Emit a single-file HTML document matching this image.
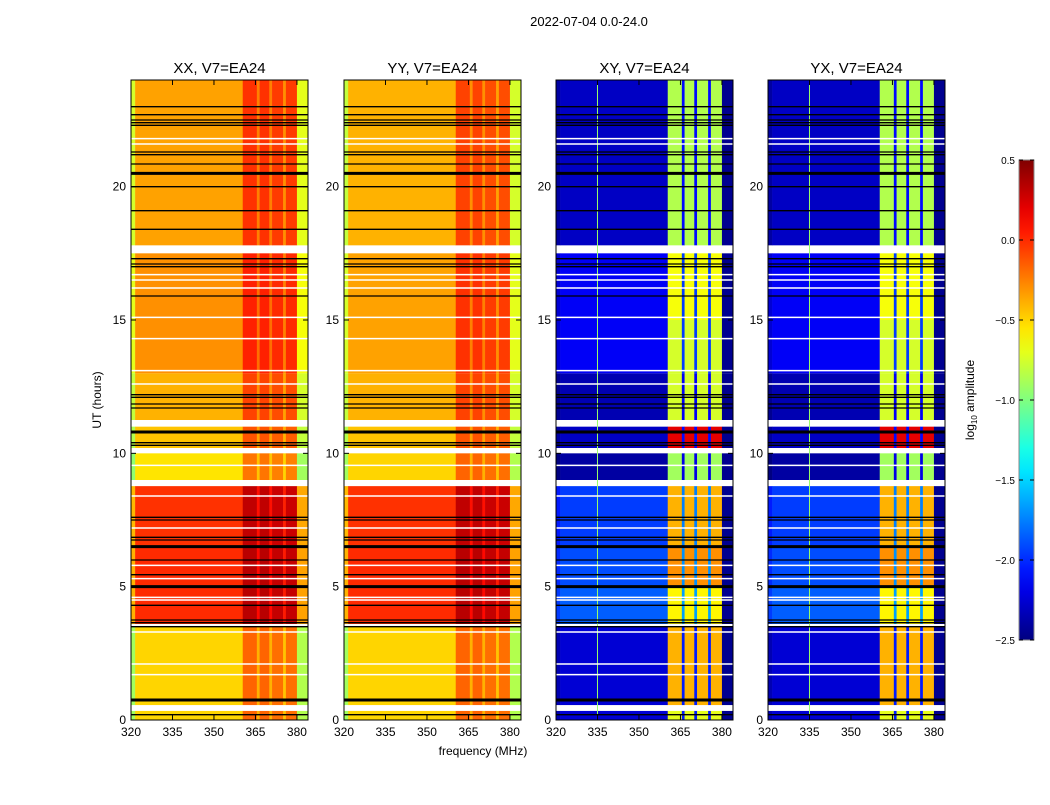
<!DOCTYPE html>
<html><head><meta charset="utf-8"><style>
body{margin:0;background:#fff;font-family:"Liberation Sans",sans-serif}
svg text{font-family:"Liberation Sans","DejaVu Sans",sans-serif}
</style></head><body>
<svg id="fig" width="1050" height="800" viewBox="0 0 1050 800" xmlns="http://www.w3.org/2000/svg">
<text x="589" y="26" font-size="13" text-anchor="middle">2022-07-04 0.0-24.0</text>
<text x="483" y="755" font-size="12" text-anchor="middle">frequency (MHz)</text>
<text x="0" y="0" font-size="12" text-anchor="middle" transform="translate(101,400) rotate(-90)">UT (hours)</text>
<text x="0" y="0" font-size="12" text-anchor="middle" transform="translate(974,400) rotate(-90)">log<tspan font-size="8" dy="3">10</tspan><tspan dy="-3"> amplitude</tspan></text>
</svg>
<script>
// ---- data ----
const panelTitles = ["XX, V7=EA24","YY, V7=EA24","XY, V7=EA24","YX, V7=EA24"];
const bandStart = [17.8, 15.0, 13.0, 11.25, 10.2, 9.0, 6.5, 5.0, 3.6, 0.56, 0.0];
const bandEnd   = [24.0, 17.5, 15.0, 13.0, 11.0, 10.0, 8.77, 6.5, 5.0, 3.5, 0.34];
const xxBase    = [-0.35,-0.3,-0.3,-0.4,-0.45,-0.55,-0.02,0.0,0.0,-0.5,-0.5];
const yyBase    = [-0.4,-0.35,-0.35,-0.4,-0.45,-0.5,-0.02,0.0,0.0,-0.5,-0.5];
const xyBase    = [-2.3,-2.15,-2.15,-2.35,-2.3,-2.4,-1.95,-1.9,-1.85,-2.25,-2.25];
const xyRfi     = [-0.85,-0.65,-0.75,-0.75,0.2,-0.9,-0.4,-0.3,-0.6,-0.4,-0.7];
const colStart  = [320, 321.5, 360.4, 365.5, 366.5, 370, 371, 375, 376, 380];
const colEnd    = [321.5, 360.4, 365.5, 366.5, 370, 371, 375, 376, 380, 384];
const colKind   = ["edge","base","rfi","gap","rfi","gap","rfi","gap","rfi","hedge"];
const coOffset  = [-0.4, 0, 0.33, 0.1, 0.33, 0.1, 0.3, 0.05, 0.3, -0.35];
const whiteLines = [21.8,21.6,16.7,16.5,16.2,15.1,14.3,13.1,12.6,9.55,8.4,7.2,5.8,5.3,4.6,4.5,3.3,2.1,1.7];
const blackLines = [23.0,22.7,22.5,22.4,22.3,21.3,21.2,20.85,20.0,19.1,18.4,17.3,17.1,17.0,15.9,12.2,12.1,11.85,11.7,10.4,10.3,7.6,7.5,6.85,6.75,6.0,5.45,4.3,3.75,3.65,3.5,0.2];
const thickBlack = [20.5,10.8,6.5,5.0,0.75];
const yTicks = [0,5,10,15,20];
const xTicks = [320,335,350,365,380];
const cbTicks = [0.5,0.0,-0.5,-1.0,-1.5,-2.0,-2.5];
// ---- layout ----
const panelX = [131,344,556,768], PW = 177, PT = 80, PB = 720;
const fmin = 320, fmax = 384, tmin = 0, tmax = 24, vmin = -2.5, vmax = 0.5;
const NS = "http://www.w3.org/2000/svg";
const svg = document.getElementById("fig");
function jet(v){
  let t = Math.max(0, Math.min(1, (v - vmin)/(vmax - vmin)));
  const c = x => Math.round(255*Math.max(0, Math.min(1, x)));
  return `rgb(${c(1.5-Math.abs(4*t-3))},${c(1.5-Math.abs(4*t-2))},${c(1.5-Math.abs(4*t-1))})`;
}
function mk(tag, attrs, parent){
  const e = document.createElementNS(NS, tag);
  for (const k in attrs) e.setAttribute(k, attrs[k]);
  (parent || svg).appendChild(e); return e;
}
panelX.forEach((px, p) => {
  const xs = f => px + (f - fmin)/(fmax - fmin)*PW;
  const ys = h => PB - (h - tmin)/(tmax - tmin)*(PB - PT);
  const g = mk("g", {});
  
  
  for (let b = 0; b < bandStart.length; b++) {
    for (let c = 0; c < colStart.length; c++) {
      let v;
      if (p < 2) v = (p === 0 ? xxBase[b] : yyBase[b]) + coOffset[c];
      else {
        const k = colKind[c];
        v = k === "rfi" ? xyRfi[b] : k === "gap" ? xyBase[b] + 0.2 : k === "hedge" ? -2.45 : k === "edge" ? xyBase[b] - 0.1 : xyBase[b];
      }
      const r = mk("rect", {x: xs(colStart[c]), y: ys(bandEnd[b]), width: xs(colEnd[c]) - xs(colStart[c]) + 0.3, height: ys(bandStart[b]) - ys(bandEnd[b]), fill: jet(v)}, g);
      
      
    }
  }
  if (p >= 2) {
    const l = mk("line", {x1: xs(335), x2: xs(335), y1: PT, y2: PB, stroke: "#9f6", "stroke-width": 1}, g);
    
    
  }
  whiteLines.forEach(h => {
    const l = mk("line", {x1: px, x2: px + PW, y1: ys(h), y2: ys(h), stroke: "#fff", "stroke-width": 1.5}, g);
    
    
  });
  blackLines.forEach(h => {
    const l = mk("line", {x1: px, x2: px + PW, y1: ys(h), y2: ys(h), stroke: "#000", "stroke-width": 1.3}, g);
    
    
  });
  thickBlack.forEach(h => {
    const l = mk("line", {x1: px, x2: px + PW, y1: ys(h), y2: ys(h), stroke: "#000", "stroke-width": 3}, g);
    
    
  });
  const fr = mk("rect", {x: px, y: PT, width: PW, height: PB - PT, fill: "none", stroke: "#000", "stroke-width": 1}, g);
  
  
  const tt = mk("text", {x: px + PW/2, y: PT - 7, "font-size": 15, "text-anchor": "middle"}, g);
  tt.textContent = panelTitles[p];
  
  
  yTicks.forEach(h => {
    const y = ys(h);
    mk("line", {x1: px, x2: px + 5, y1: y, y2: y, stroke: "#000"}, g);
    mk("line", {x1: px + PW - 5, x2: px + PW, y1: y, y2: y, stroke: "#000"}, g);
    const t = mk("text", {x: px - 5, y: y + 4, "font-size": 12, "text-anchor": "end"}, g);
    t.textContent = h;
    
    
  });
  xTicks.forEach(f => {
    const x = xs(f);
    mk("line", {x1: x, x2: x, y1: PB, y2: PB - 5, stroke: "#000"}, g);
    mk("line", {x1: x, x2: x, y1: PT, y2: PT + 5, stroke: "#000"}, g);
    const t = mk("text", {x: x, y: PB + 16, "font-size": 12, "text-anchor": "middle"}, g);
    t.textContent = f;
    
    
  });
});
// colorbar
const CX = 1019, CW = 15, CT = 160, CB = 640;
const cy = v => CB - (v - vmin)/(vmax - vmin)*(CB - CT);
const cg = mk("g", {});


const defs = mk("defs", {}, cg);
const grad = mk("linearGradient", {id: "jetg", x1: 0, y1: 1, x2: 0, y2: 0}, defs);
for (let i = 0; i <= 20; i++) mk("stop", {offset: i/20, "stop-color": jet(vmin + i/20*(vmax - vmin))}, grad);
mk("rect", {x: CX, y: CT, width: CW, height: CB - CT, fill: "url(#jetg)", stroke: "#888"}, cg);
cbTicks.forEach(v => {
  mk("line", {x1: CX + CW - 4, x2: CX + CW, y1: cy(v), y2: cy(v), stroke: "#000"}, cg);
  mk("line", {x1: CX, x2: CX + 4, y1: cy(v), y2: cy(v), stroke: "#000"}, cg);
  const t = mk("text", {x: CX - 4, y: cy(v) + 4, "font-size": 10, "text-anchor": "end"}, cg);
  t.textContent = v.toFixed(1).replace("-", "\u2212");
  
  
});
</script>
</body></html>
